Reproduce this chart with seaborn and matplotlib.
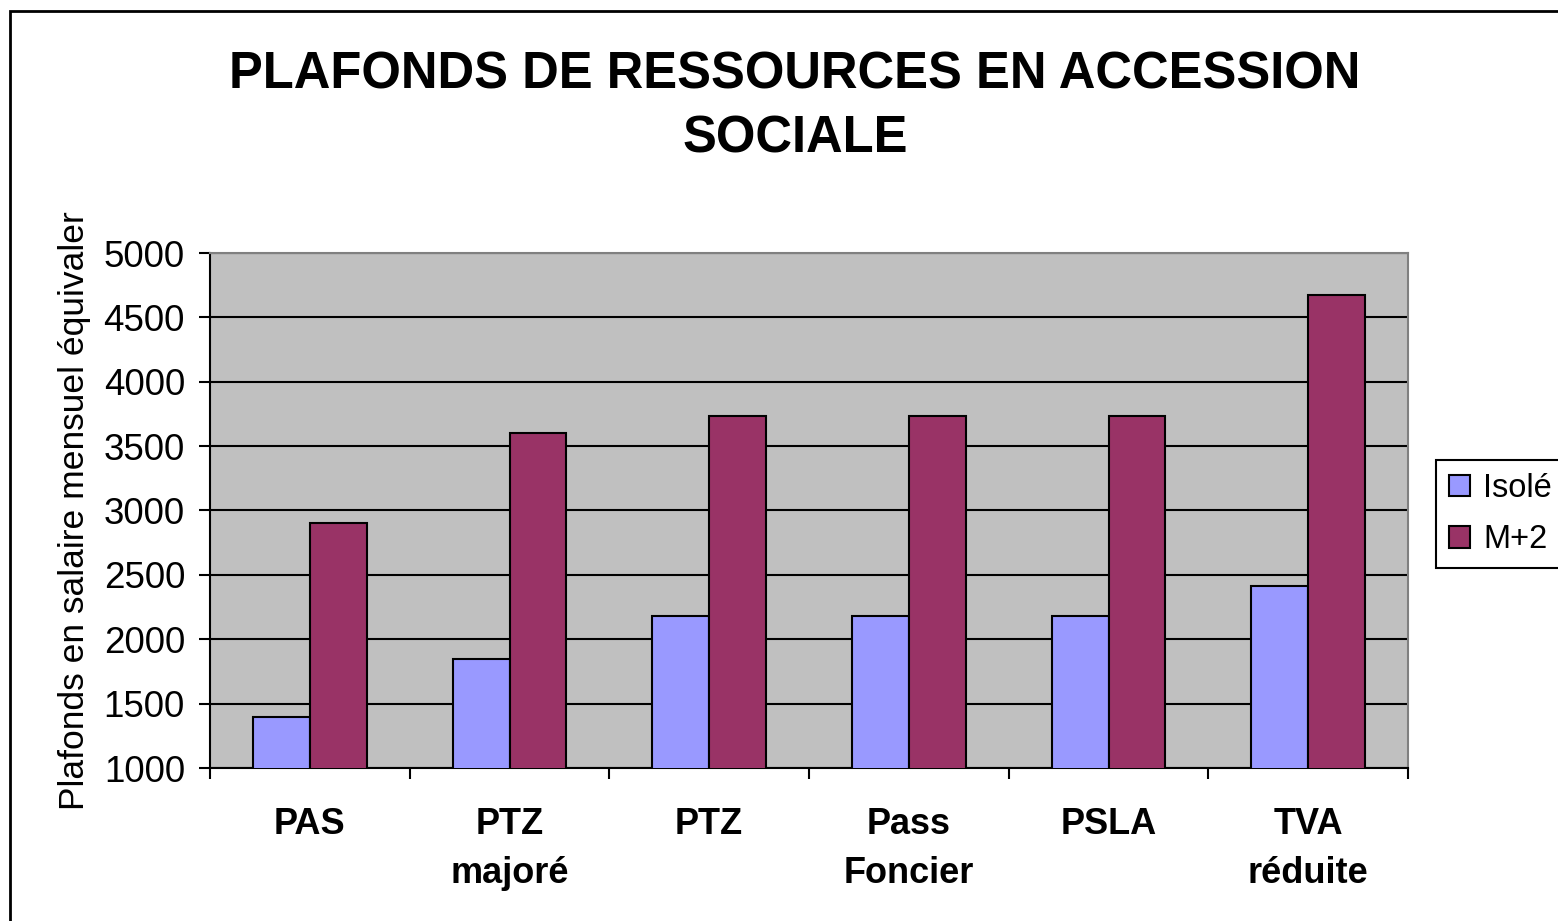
import numpy as np
import pandas as pd
import matplotlib
matplotlib.use("Agg")
import matplotlib.pyplot as plt
from matplotlib.patches import Rectangle
from matplotlib.ticker import FixedLocator
import seaborn as sns

categories = ["PAS", "PTZ\nmajoré", "PTZ", "Pass\nFoncier", "PSLA", "TVA\nréduite"]
isole = [1400, 1850, 2180, 2180, 2180, 2410]
m2 = [2900, 3600, 3735, 3735, 3735, 4670]
series_names = ["Isolé", "M+2"]
yticks = [1000, 1500, 2000, 2500, 3000, 3500, 4000, 4500, 5000]

df = pd.DataFrame({
    "cat": categories * 2,
    "val": isole + m2,
    "serie": [series_names[0]] * len(categories) + [series_names[1]] * len(categories),
})

sns.set_theme(style="white")
plt.rcParams["font.family"] = ["Liberation Sans", "DejaVu Sans"]
plt.rcParams["text.color"] = "black"
plt.rcParams["axes.labelcolor"] = "black"
plt.rcParams["xtick.color"] = "black"
plt.rcParams["ytick.color"] = "black"

W, H = 1558, 921
fig = plt.figure(figsize=(W / 100, H / 100), dpi=100)
fig.patch.set_facecolor("white")
ax = fig.add_axes([210 / W, 1 - 768 / H, (1408 - 210) / W, (768 - 253) / H])
ax.set_facecolor("#C0C0C0")

sns.barplot(data=df, x="cat", y="val", hue="serie", order=categories,
            hue_order=series_names, palette=["#9999FF", "#993366"],
            width=0.57, edgecolor="black", linewidth=1.5, saturation=1,
            ax=ax, legend=True, zorder=3)

ax.set_ylim(1000, 5000)
ax.set_xlim(-0.5, len(categories) - 0.5)
ax.set_yticks(yticks)
ax.yaxis.grid(True, color="black", linewidth=1.5, zorder=1)
ax.set_axisbelow(True)
ax.tick_params(axis="y", labelsize=26.5, length=8, width=1.5, color="black",
               labelcolor="black", left=True, pad=10)
ax.tick_params(axis="x", which="major", length=0, labelsize=26,
               labelcolor="black", pad=28)
ax.xaxis.set_minor_locator(FixedLocator(np.arange(-0.5, len(categories), 1.0)))
ax.tick_params(axis="x", which="minor", length=8, width=1.5, color="black", bottom=True)
for lbl in ax.get_xticklabels():
    lbl.set_fontweight("bold")
    lbl.set_linespacing(1.51)

ax.set_xlabel("")
ax.set_ylabel("Plafonds en salaire mensuel équivaler", fontsize=25.5, labelpad=9,
              color="black")

for s in ["left", "bottom"]:
    ax.spines[s].set_color("black")
    ax.spines[s].set_linewidth(1.5)
for s in ["top", "right"]:
    ax.spines[s].set_color("#808080")
    ax.spines[s].set_linewidth(1.5)

leg = ax.get_legend()
handles = leg.legend_handles
leg.remove()
fig.legend(handles, series_names, loc="upper left",
           bbox_to_anchor=(1436 / W, 1 - 460 / H), fontsize=23.5,
           frameon=True, fancybox=False, edgecolor="black", framealpha=1,
           handlelength=0.65, handleheight=0.65, handletextpad=0.4,
           labelspacing=0.62, borderpad=0.4, borderaxespad=0,
           labelcolor="black")
fig.legends[0].get_frame().set_linewidth(1.5)

fig.text(795 / W, 1 - 107 / H, "PLAFONDS DE RESSOURCES EN ACCESSION\nSOCIALE",
         ha="center", va="center", fontsize=36.5, fontweight="bold",
         linespacing=1.37, color="black")

fig.add_artist(Rectangle((10 / W, -0.1), 2.0, 1 - 11 / H + 0.1, transform=fig.transFigure,
                         fill=False, edgecolor="black", linewidth=2, clip_on=False))

fig.savefig("out.png", dpi=100)
